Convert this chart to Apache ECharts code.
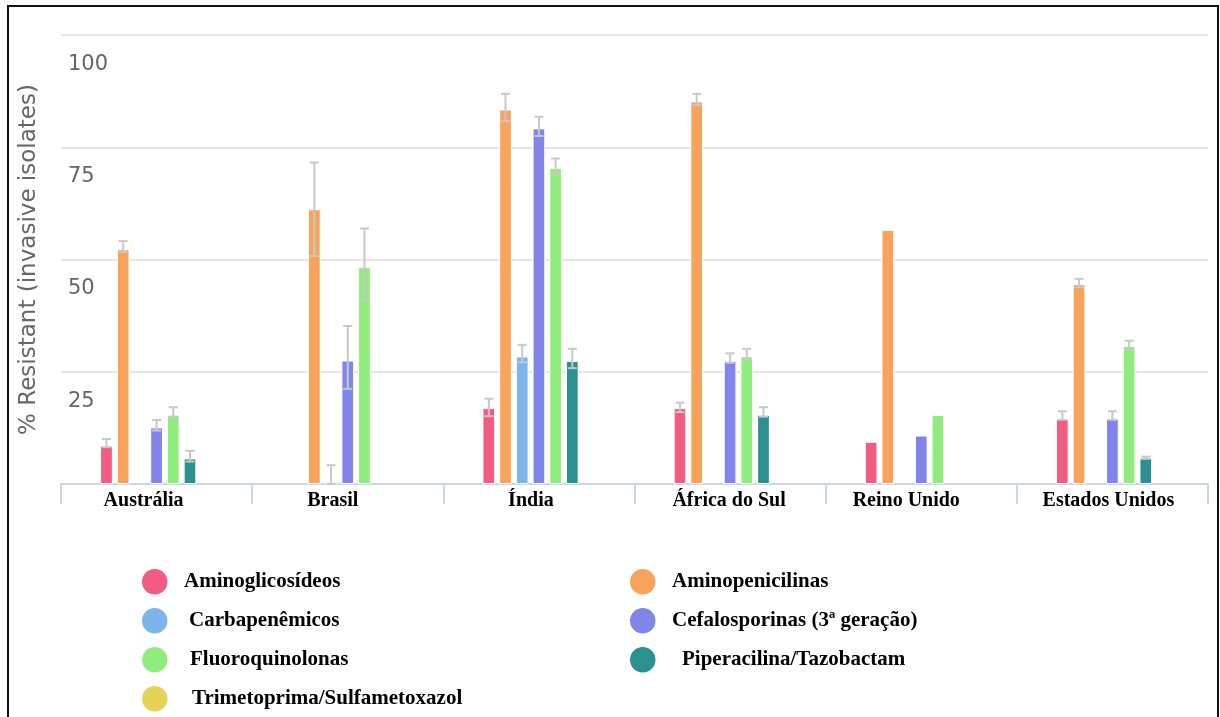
<!DOCTYPE html>
<html>
<head>
<meta charset="utf-8">
<script src="https://cdn.jsdelivr.net/npm/echarts@6/dist/echarts.min.js"></script>
<style>
  html, body { margin: 0; padding: 0; background: #fff; }
  #chart { width: 1220px; height: 717px; }
</style>
</head>
<body>
<div id="chart"></div>
<script>
// ---- data ----
const categories = ['Austrália', 'Brasil', 'Índia', 'África do Sul', 'Reino Unido', 'Estados Unidos'];
const seriesNames = ['Aminoglicosídeos', 'Aminopenicilinas', 'Carbapenêmicos', 'Cefalosporinas (3ª geração)',
  'Fluoroquinolonas', 'Piperacilina/Tazobactam', 'Trimetoprima/Sulfametoxazol'];
const yTicks = [0, 25, 50, 75, 100];

const aminoglicosideos   = [8.5, null, 16.9, 16.9, 9.4, 14.5];
const aminopenicilinas   = [52.3, 61.2, 83.4, 85.2, 56.6, 44.5];
const carbapenemicos     = [null, 0.5, 28.4, null, null, null];
const cefalosporinas     = [12.6, 27.5, 79.2, 27.4, 10.8, 14.5];
const fluoroquinolonas   = [15.4, 48.3, 70.4, 28.4, 15.4, 30.7];
const piperacilina       = [5.7, null, 27.4, 15.4, null, 5.8];
const trimetoprima       = [null, null, null, null, null, null];

// error bars: [low, high] per category (null = none)
const errAminoglicosideos = [[8.2, 10.0], null, [15.1, 19.0], [16.0, 18.1], null, [14.3, 16.2]];
const errAminopenicilinas = [[51.7, 54.1], [50.8, 71.6], [80.8, 86.9], [84.4, 86.9], null, [43.8, 45.7]];
const errCarbapenemicos   = [null, [0, 4.2], [27.1, 31.0], null, null, null];
const errCefalosporinas   = [[11.9, 14.25], [21.2, 35.2], [77.5, 81.8], [27.0, 29.1], null, [14.3, 16.2]];
const errFluoroquinolonas = [[15.0, 17.1], [41.0, 56.9], [68.8, 72.5], [28.0, 30.1], null, [29.8, 31.9]];
const errPiperacilina     = [[5.0, 7.4], null, [25.8, 30.1], [15.0, 17.1], null, [5.6, 6.1]];
const errTrimetoprima     = [null, null, null, null, null, null];

// ---- styling ----
const colors = ['#f15c80', '#f7a35c', '#7cb5ec', '#8085e9', '#90ed7d', '#2b908f', '#e4d354'];
const labelShift = [13, 15, 8, 1, 15, 4];          // category label nudges to the left (px)
const legendIndent = [10, 10, 15, 10, 16, 20, 18]; // legend text indents per series (px)
const BAR_W = 12.7;
const BAR_GAP = 0.315;

const values = [aminoglicosideos, aminopenicilinas, carbapenemicos, cefalosporinas, fluoroquinolonas, piperacilina, trimetoprima];
const errs = [errAminoglicosideos, errAminopenicilinas, errCarbapenemicos, errCefalosporinas, errFluoroquinolonas, errPiperacilina, errTrimetoprima];

const chart = echarts.init(document.getElementById('chart'));

const barSeries = seriesNames.map((name, i) => ({
  name: name,
  type: 'bar',
  barWidth: BAR_W,
  barGap: (BAR_GAP * 100) + '%',
  itemStyle: { color: colors[i], borderColor: '#ffffff', borderWidth: 1 },
  data: values[i].map(v => v === null ? '-' : v),
  z: 2
}));

const nSeries = seriesNames.length;
const errSeries = seriesNames.map((name, i) => {
  const data = [];
  errs[i].forEach((e, c) => { if (e) data.push([c, e[0], e[1]]); });
  const offset = (i - (nSeries - 1) / 2) * BAR_W * (1 + BAR_GAP);
  return {
    type: 'custom',
    name: name + ' err',
    silent: true,
    z: 5,
    data: data,
    renderItem: function (params, api) {
      const c = api.value(0);
      const hi = api.coord([c, api.value(2)]);
      const lo = api.coord([c, api.value(1)]);
      const x = hi[0] + offset;
      const cap = 4.5;
      const st = { stroke: '#c8c8c8', lineWidth: 2 };
      return {
        type: 'group',
        children: [
          { type: 'line', shape: { x1: x, y1: hi[1], x2: x, y2: lo[1] }, style: st },
          { type: 'line', shape: { x1: x - cap, y1: hi[1], x2: x + cap, y2: hi[1] }, style: st },
          { type: 'line', shape: { x1: x - cap, y1: lo[1], x2: x + cap, y2: lo[1] }, style: st }
        ]
      };
    }
  };
});

const legendIcon = 'path://M50,0A50,50 0 1,1 50,100A50,50 0 1,1 50,0Z';
const legendText = { fontFamily: 'Liberation Serif', fontWeight: 'bold', fontSize: 21, color: '#000' };
const legendItem = i => ({ name: seriesNames[i], textStyle: { padding: [0, 0, 0, legendIndent[i]] } });

const option = {
  animation: false,
  backgroundColor: '#ffffff',
  grid: { left: 61, right: 12, top: 35, bottom: 233, containLabel: false },
  legend: [
    {
      orient: 'vertical', left: 140, top: 567, height: 150, padding: 0,
      itemWidth: 28.5, itemHeight: 27.5, itemGap: 9.5,
      icon: legendIcon, selectedMode: false,
      textStyle: legendText,
      data: [0, 2, 4, 6].map(legendItem)
    },
    {
      orient: 'vertical', left: 628, top: 567, height: 150, padding: 0,
      itemWidth: 28.5, itemHeight: 27.5, itemGap: 9.5,
      icon: legendIcon, selectedMode: false,
      textStyle: legendText,
      data: [1, 3, 5].map(legendItem)
    }
  ],
  xAxis: {
    type: 'category',
    data: categories.map((c, i) => ({ value: c, textStyle: { padding: [0, labelShift[i] * 2, 0, 0] } })),
    axisLine: { show: true, lineStyle: { color: '#ccd6eb', width: 2 } },
    axisTick: { show: true, length: 20, lineStyle: { color: '#ccd6eb', width: 2 } },
    axisLabel: { margin: 7, fontFamily: 'Liberation Serif', fontWeight: 'bold', fontSize: 20, color: '#000' }
  },
  yAxis: {
    type: 'value',
    min: yTicks[0], max: yTicks[yTicks.length - 1], interval: 25,
    name: '% Resistant (invasive isolates)',
    nameLocation: 'middle',
    nameGap: 20,
    nameTextStyle: { fontFamily: 'DejaVu Sans', fontSize: 23, color: '#666666' },
    axisLine: { show: false },
    axisTick: { show: false },
    splitLine: { lineStyle: { color: '#e6e6e6', width: 2 } },
    axisLabel: {
      inside: true, margin: 7,
      verticalAlign: 'top', padding: [19, 0, 0, 0],
      fontFamily: 'DejaVu Sans', fontSize: 21, color: '#666666',
      formatter: v => (v === 0 ? '' : String(v))
    }
  },
  graphic: [
    {
      type: 'rect', silent: true, z: 100,
      shape: { x: 8, y: 6, width: 1210, height: 730 },
      style: { fill: 'none', stroke: '#111', lineWidth: 2 }
    }
  ],
  series: barSeries.concat(errSeries)
};

chart.setOption(option);
</script>
</body>
</html>
